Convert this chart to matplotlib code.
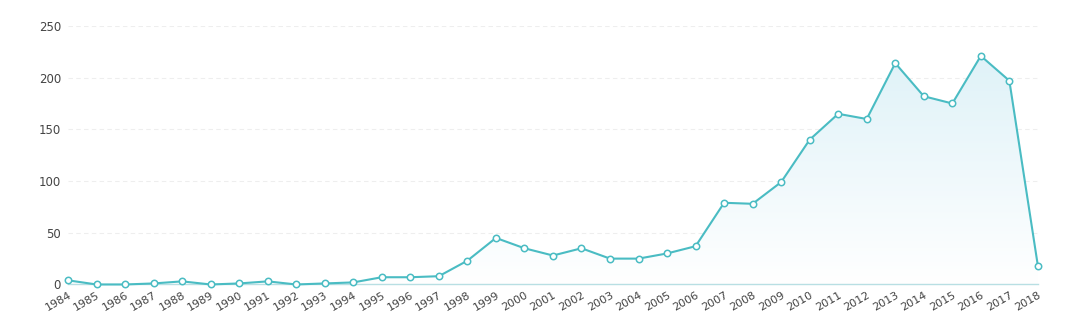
import numpy as np
import matplotlib
matplotlib.use('Agg')
import matplotlib.pyplot as plt
from matplotlib.colors import LinearSegmentedColormap

years = list(range(1984, 2019))
counts = [4, 0, 0, 1, 3, 0, 1, 3, 0, 1, 2, 7, 7, 8, 23, 45, 35, 28, 35, 25,
          25, 30, 37, 79, 78, 99, 140, 165, 160, 214, 182, 175, 221, 197, 18]
yticks = [0, 50, 100, 150, 200, 250]

line_color = '#4abcc3'

fig = plt.figure(figsize=(10.8, 3.24), dpi=100)
ax = fig.add_axes([0.063, 0.122, 0.898, 0.798])

# gradient under the line
cmap = LinearSegmentedColormap.from_list('fade', ['#ffffff', '#dff2f8'])
grad = np.linspace(0, 1, 256).reshape(-1, 1)
img = ax.imshow(grad, cmap=cmap, aspect='auto', origin='lower',
                extent=[years[0], years[-1], 0, max(counts)], zorder=1)
poly = ax.fill_between(years, counts, 0, color='none')
img.set_clip_path(poly.get_paths()[0], transform=ax.transData)

ax.plot(years, counts, color=line_color, lw=1.5, marker='o', ms=4.6,
        mfc='white', mec=line_color, mew=1.1, zorder=3, clip_on=False)

ax.set_xlim(years[0], years[-1])
ax.set_ylim(0, 250)
ax.set_yticks(yticks)
ax.set_xticks(years)
ax.set_xticklabels([str(y) for y in years], rotation=30, ha='right',
                   rotation_mode='anchor', fontsize=8, color='#444444')
ax.tick_params(axis='y', labelsize=8.5, labelcolor='#444444', length=0, pad=5)
ax.tick_params(axis='x', length=0, pad=4)

ax.grid(axis='y', color='#eeeeee', ls=(0, (4, 3)), lw=0.8)
ax.set_axisbelow(True)
for s in ['top', 'right', 'left']:
    ax.spines[s].set_visible(False)
ax.spines['bottom'].set_color('#b8dfe3')
ax.spines['bottom'].set_linewidth(1.0)

fig.savefig('out.png', dpi=100)
